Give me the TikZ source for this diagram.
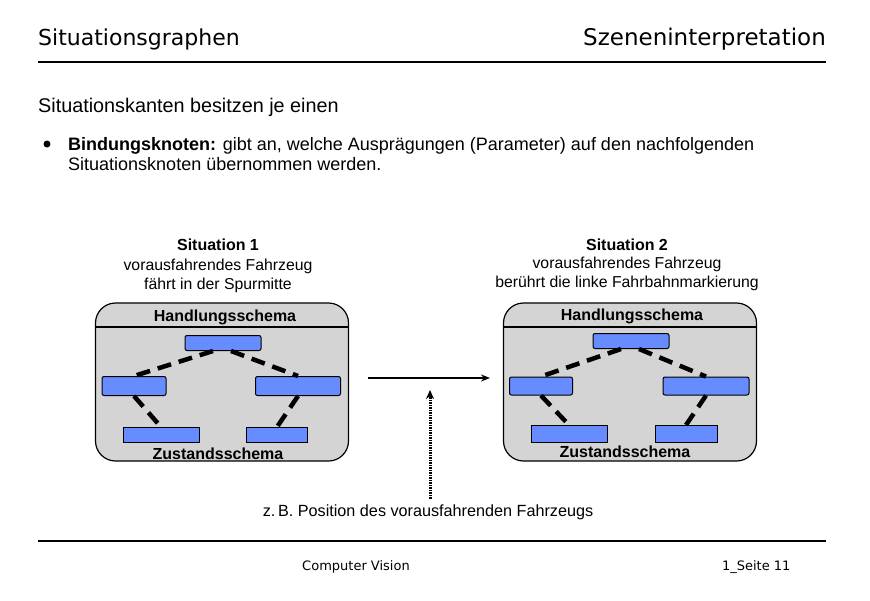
\documentclass[tikz,border=0pt]{standalone}
\usepackage{fontspec}
\setmainfont{Liberation Sans}
\newfontfamily\headfont{DejaVu Sans}
\usetikzlibrary{positioning, arrows.meta}
\definecolor{boxgray}{RGB}{212, 212, 212}
\definecolor{schemablue}{RGB}{102, 140, 255}

\tikzset{
  schema/.style={draw, line width=1.2pt, rounded corners=20pt, fill=boxgray, minimum width=253pt, minimum height=158pt, inner sep=0pt},
  slot/.style={draw, line width=1pt, rounded corners=2pt, fill=schemablue, inner sep=0pt},
  bond/.style={line width=4.5pt, dash pattern=on 14pt off 8pt},
  title/.style={font=\bfseries\fontsize{16}{18}\selectfont},
  caption/.style={align=center, font=\fontsize{15.8}{19.5}\selectfont}
}

\begin{document}
\begin{tikzpicture}[x=1pt, y=-1pt]
  \useasboundingbox (0,0) rectangle (870,600);
  % Kopfzeile
  \node[anchor=base west, inner sep=0pt, font=\headfont\fontsize{22}{24}\selectfont] (kopfl) at (38,45) {Situationsgraphen};
  \node[anchor=base east, inner sep=0pt, font=\headfont\fontsize{23}{24}\selectfont] (kopfr) at (826,45) {Szeneninterpretation};
  \draw[line width=1.5pt] (38,62) -- (826,62);

  \node[anchor=west, inner sep=0pt, font=\fontsize{19.8}{22}\selectfont] (intro) at (38,107) {Situationskanten besitzen je einen};
  \fill (47,144) circle (3.5pt);
  \node[anchor=north west, align=left, inner sep=0pt, font=\fontsize{18}{20.5}\selectfont] (bindung) at (68,137)
    {\textbf{Bindungsknoten:} gibt an, welche Ausprägungen (Parameter) auf den nachfolgenden\\Situationsknoten übernommen werden.};

  % Situation 1
  \node[title] (s1name) at (218,245) {Situation 1};
  \node[caption] (s1text) at (218,276) {vorausfahrendes Fahrzeug\\fährt in der Spurmitte};
  \node[schema] (s1box) at (222,382) {};
  \draw[line width=1.2pt] (96,327) -- (348,327);
  \node[title] (s1hand) at (225,317) {Handlungsschema};
  \node[title] (s1zust) at (218,454) {Zustandsschema};
  \node[slot, minimum width=76pt, minimum height=15pt] (s1top) at (223,343) {};
  \node[slot, minimum width=64pt, minimum height=19pt] (s1l) at (134,386) {};
  \node[slot, minimum width=85pt, minimum height=19pt] (s1r) at (298,386) {};
  \node[slot, minimum width=76pt, minimum height=15pt, rounded corners=0pt] (s1bl) at (161,435) {};
  \node[slot, minimum width=61pt, minimum height=15pt, rounded corners=0pt] (s1br) at (277,435) {};
  \draw[bond] ([xshift=-10pt]s1top.south) -- (s1l.north);
  \draw[bond] ([xshift=8pt]s1top.south) -- (s1r.north);
  \draw[bond] (s1l.south) -- (s1bl.north);
  \draw[bond] (s1r.south) -- (s1br.north);

  % Situation 2
  \node[title] (s2name) at (627,245) {Situation 2};
  \node[caption] (s2text) at (627,274) {vorausfahrendes Fahrzeug\\berührt die linke Fahrbahnmarkierung};
  \node[schema] (s2box) at (630,382) {};
  \draw[line width=1.2pt] (504,327) -- (756,327);
  \node[title] (s2hand) at (632,316) {Handlungsschema};
  \node[title] (s2zust) at (625,452) {Zustandsschema};
  \node[slot, minimum width=76pt, minimum height=15pt] (s2top) at (631,341) {};
  \node[slot, minimum width=63pt, minimum height=18pt] (s2l) at (541,386) {};
  \node[slot, minimum width=86pt, minimum height=18pt] (s2r) at (706,386) {};
  \node[slot, minimum width=76pt, minimum height=17pt, rounded corners=0pt] (s2bl) at (569,434) {};
  \node[slot, minimum width=62pt, minimum height=17pt, rounded corners=0pt] (s2br) at (686,434) {};
  \draw[bond] ([xshift=-10pt]s2top.south) -- (s2l.north);
  \draw[bond] ([xshift=8pt]s2top.south) -- (s2r.north);
  \draw[bond] (s2l.south) -- (s2bl.north);
  \draw[bond] (s2r.south) -- (s2br.north);

  % Situationskante mit Bindungsknoten
  \coordinate (kante) at (430,378);
  \draw[line width=1.5pt, -{Stealth[length=9pt, width=7pt]}] (368,378) -- (490,378);
  \node[caption, font=\fontsize{16.2}{19}\selectfont] (beispiel) at (428,512) {z.\,B. Position des vorausfahrenden Fahrzeugs};
  \draw[line width=3pt, dash pattern=on 1.5pt off 1pt, -{Stealth[length=9pt, width=8pt]}] ([yshift=2pt]beispiel.north -| kante) -- ([yshift=-12pt]kante);

  % Fusszeile
  \draw[line width=1.5pt] (38,541) -- (826,541);
  \node[font=\headfont\fontsize{13}{15}\selectfont] (fussl) at (356,567) {Computer Vision};
  \node[anchor=east, font=\headfont\fontsize{13}{15}\selectfont] (fussr) at (794,567) {1\_Seite 11};
\end{tikzpicture}
\end{document}
